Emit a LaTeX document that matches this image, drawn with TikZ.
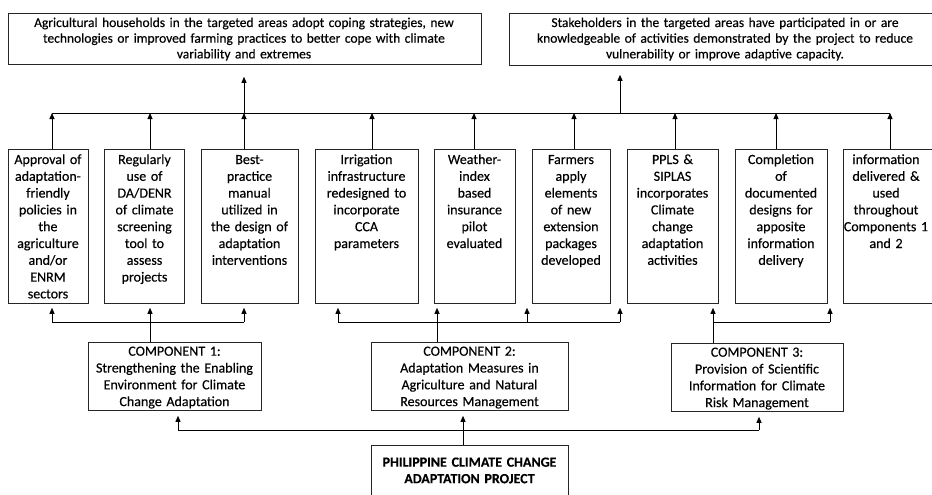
\documentclass[tikz,border=0pt]{standalone}
\usepackage{fontspec}
\setmainfont{Carlito}[FakeBold=0.35]
\usetikzlibrary{arrows.meta}
\begin{document}
\begin{tikzpicture}[x=1pt,y=-1pt,
  box/.style={draw=black!85, line width=0.8pt, inner sep=0pt, anchor=north west},
  lbl/.style={anchor=base, inner sep=0pt, align=center, text width=#1, font=\fontsize{14}{16.8}\selectfont},
  lbl/.default=120pt,
  toplbl/.style={anchor=base, inner sep=0pt, align=center, text width=#1, font=\fontsize{13.5}{15.7}\selectfont},
  conn/.style={line width=0.9pt, draw=black},
  arr/.style={conn, -{Triangle[length=6pt,width=5pt]}}
]
\useasboundingbox (0,0) rectangle (932,495);
\clip (0,0) rectangle (932,495);

% outcome boxes
\node[box, minimum width=473pt, minimum height=51pt] (top1) at (8,13) {};
\node[box, minimum width=432pt, minimum height=52pt] (top2) at (509,13) {};
\node[toplbl=480pt] (top1t) at (244,27) {Agricultural households in the targeted areas adopt coping strategies, new\\technologies or improved farming practices to better cope with climate\\variability and extremes};
\node[toplbl=480pt] (top2t) at (725,27) {Stakeholders in the targeted areas have participated in or are\\knowledgeable of activities demonstrated by the project to reduce\\vulnerability or improve adaptive capacity.};

% output boxes
\node[box, minimum width=80pt, minimum height=154pt] (b1) at (8,149) {};
\node[box, minimum width=80pt, minimum height=154pt] (b2) at (104,149) {};
\node[box, minimum width=97pt, minimum height=154pt] (b3) at (201,149) {};
\node[box, minimum width=103pt, minimum height=154pt] (b4) at (315,149) {};
\node[box, minimum width=81pt, minimum height=154pt] (b5) at (434,149) {};
\node[box, minimum width=78pt, minimum height=154pt] (b6) at (532,149) {};
\node[box, minimum width=91pt, minimum height=154pt] (b7) at (627,149) {};
\node[box, minimum width=92pt, minimum height=154pt] (b8) at (735,149) {};
\node[box, minimum width=110pt, minimum height=154pt] (b9) at (843,149) {};

\node[lbl] (b1t) at (48,164) {Approval of\\adaptation-\\friendly\\policies in\\the\\agriculture\\and/or\\ENRM\\sectors};
\node[lbl] (b2t) at (144.5,164) {Regularly\\use of\\DA/DENR\\of climate\\screening\\tool to\\assess\\projects};
\node[lbl] (b3t) at (249.5,164) {Best-\\practice\\manual\\utilized in\\the design of\\adaptation\\interventions};
\node[lbl] (b4t) at (366.5,164) {Irrigation\\infrastructure\\redesigned to\\incorporate\\CCA\\parameters};
\node[lbl] (b5t) at (474.5,164) {Weather-\\index\\based\\insurance\\pilot\\evaluated};
\node[lbl] (b6t) at (571,164) {Farmers\\apply\\elements\\of new\\extension\\packages\\developed};
\node[lbl] (b7t) at (672.5,164) {PPLS \&\\SIPLAS\\incorporates\\Climate\\change\\adaptation\\activities};
\node[lbl] (b8t) at (781,164) {Completion\\of\\documented\\designs for\\apposite\\information\\delivery};
\node[lbl] (b9t) at (886,164) {information\\delivered \&\\used\\throughout\\Components 1\\and 2};

% component boxes
\node[box, minimum width=173pt, minimum height=68pt] (c1) at (88,342) {};
\node[box, minimum width=197pt, minimum height=68pt] (c2) at (371,342) {};
\node[box, minimum width=172pt, minimum height=68pt] (c3) at (671,343) {};
\node[lbl=200pt] (c1t) at (174.5,355.7) {COMPONENT 1:\\Strengthening the Enabling\\Environment for Climate\\Change Adaptation};
\node[lbl=200pt] (c2t) at (469.5,355.7) {COMPONENT 2:\\Adaptation Measures in\\Agriculture and Natural\\Resources Management};
\node[lbl=200pt] (c3t) at (757,356.7) {COMPONENT 3:\\Provision of Scientific\\Information for Climate\\Risk Management};

% project box
\node[box, minimum width=197pt, minimum height=60pt] (p) at (371,445) {};
\node[lbl=200pt, font=\fontsize{14}{16.5}\selectfont\bfseries] (pt) at (469.5,466.7) {PHILIPPINE CLIMATE CHANGE\\ADAPTATION PROJECT};

% upper bus
\coordinate (u1) at (52,113);
\coordinate (u2) at (150,113);
\coordinate (u3) at (244,113);
\coordinate (u4) at (372,113);
\coordinate (u5) at (474,113);
\coordinate (u6) at (574,113);
\coordinate (u7) at (675,113);
\coordinate (u8) at (776,113);
\coordinate (u9) at (890,113);
\coordinate (o1) at (244,113);
\coordinate (o2) at (620,113);
\draw[conn] (u1) -- (u9);
\draw[arr] (b1.north -| u1) -- (u1);
\draw[arr] (b2.north -| u2) -- (u2);
\draw[arr] (b3.north -| u3) -- (u3);
\draw[arr] (b4.north -| u4) -- (u4);
\draw[arr] (b5.north -| u5) -- (u5);
\draw[arr] (b6.north -| u6) -- (u6);
\draw[arr] (b7.north -| u7) -- (u7);
\draw[arr] (b8.north -| u8) -- (u8);
\draw[arr] (b9.north -| u9) -- (u9);
\draw[arr, shorten >=12pt] (o1) -- (o1 |- top1.south);
\draw[arr, shorten >=9pt] (o2) -- (o2 |- top2.south);

% component 1 bus
\coordinate (l1) at (52,322);
\coordinate (l2) at (150,322);
\coordinate (l3) at (244,322);
\draw[conn] (l1) -- (l3);
\draw[arr, shorten >=4pt] (l1) -- (l1 |- b1.south);
\draw[arr, shorten >=4pt] (c1.north -| l2) -- (l2 |- b2.south);
\draw[arr, shorten >=4pt] (l3) -- (l3 |- b3.south);

% component 2 bus
\coordinate (m1) at (338,322);
\coordinate (m2) at (437,322);
\coordinate (m3) at (527,322);
\coordinate (m4) at (620,322);
\draw[conn] (m1) -- (m4);
\draw[arr, shorten >=4pt] (m1) -- (m1 |- b4.south);
\draw[arr, shorten >=4pt] (c2.north -| m2) -- (m2 |- b5.south);
\draw[arr, shorten >=4pt] (m3) -- (m3 |- b6.south);
\draw[arr, shorten >=4pt] (m4) -- (m4 |- b7.south);

% component 3 bus
\coordinate (n1) at (713,322);
\coordinate (n2) at (830,322);
\draw[conn] (n1) -- (n2);
\draw[arr, shorten >=4pt] (c3.north -| n1) -- (n1 |- b7.south);
\draw[arr, shorten >=4pt] (n2) -- (n2 |- b8.south);

% project bus
\coordinate (q1) at (178,430);
\coordinate (q2) at (463,430);
\coordinate (q3) at (759,430);
\draw[conn] (q1) -- (q3);
\draw[arr, shorten >=5pt] (q1) -- (q1 |- c1.south);
\draw[arr, shorten >=5pt] (p.north -| q2) -- (q2 |- c2.south);
\draw[arr, shorten >=5pt] (q3) -- (q3 |- c3.south);
\end{tikzpicture}
\end{document}
